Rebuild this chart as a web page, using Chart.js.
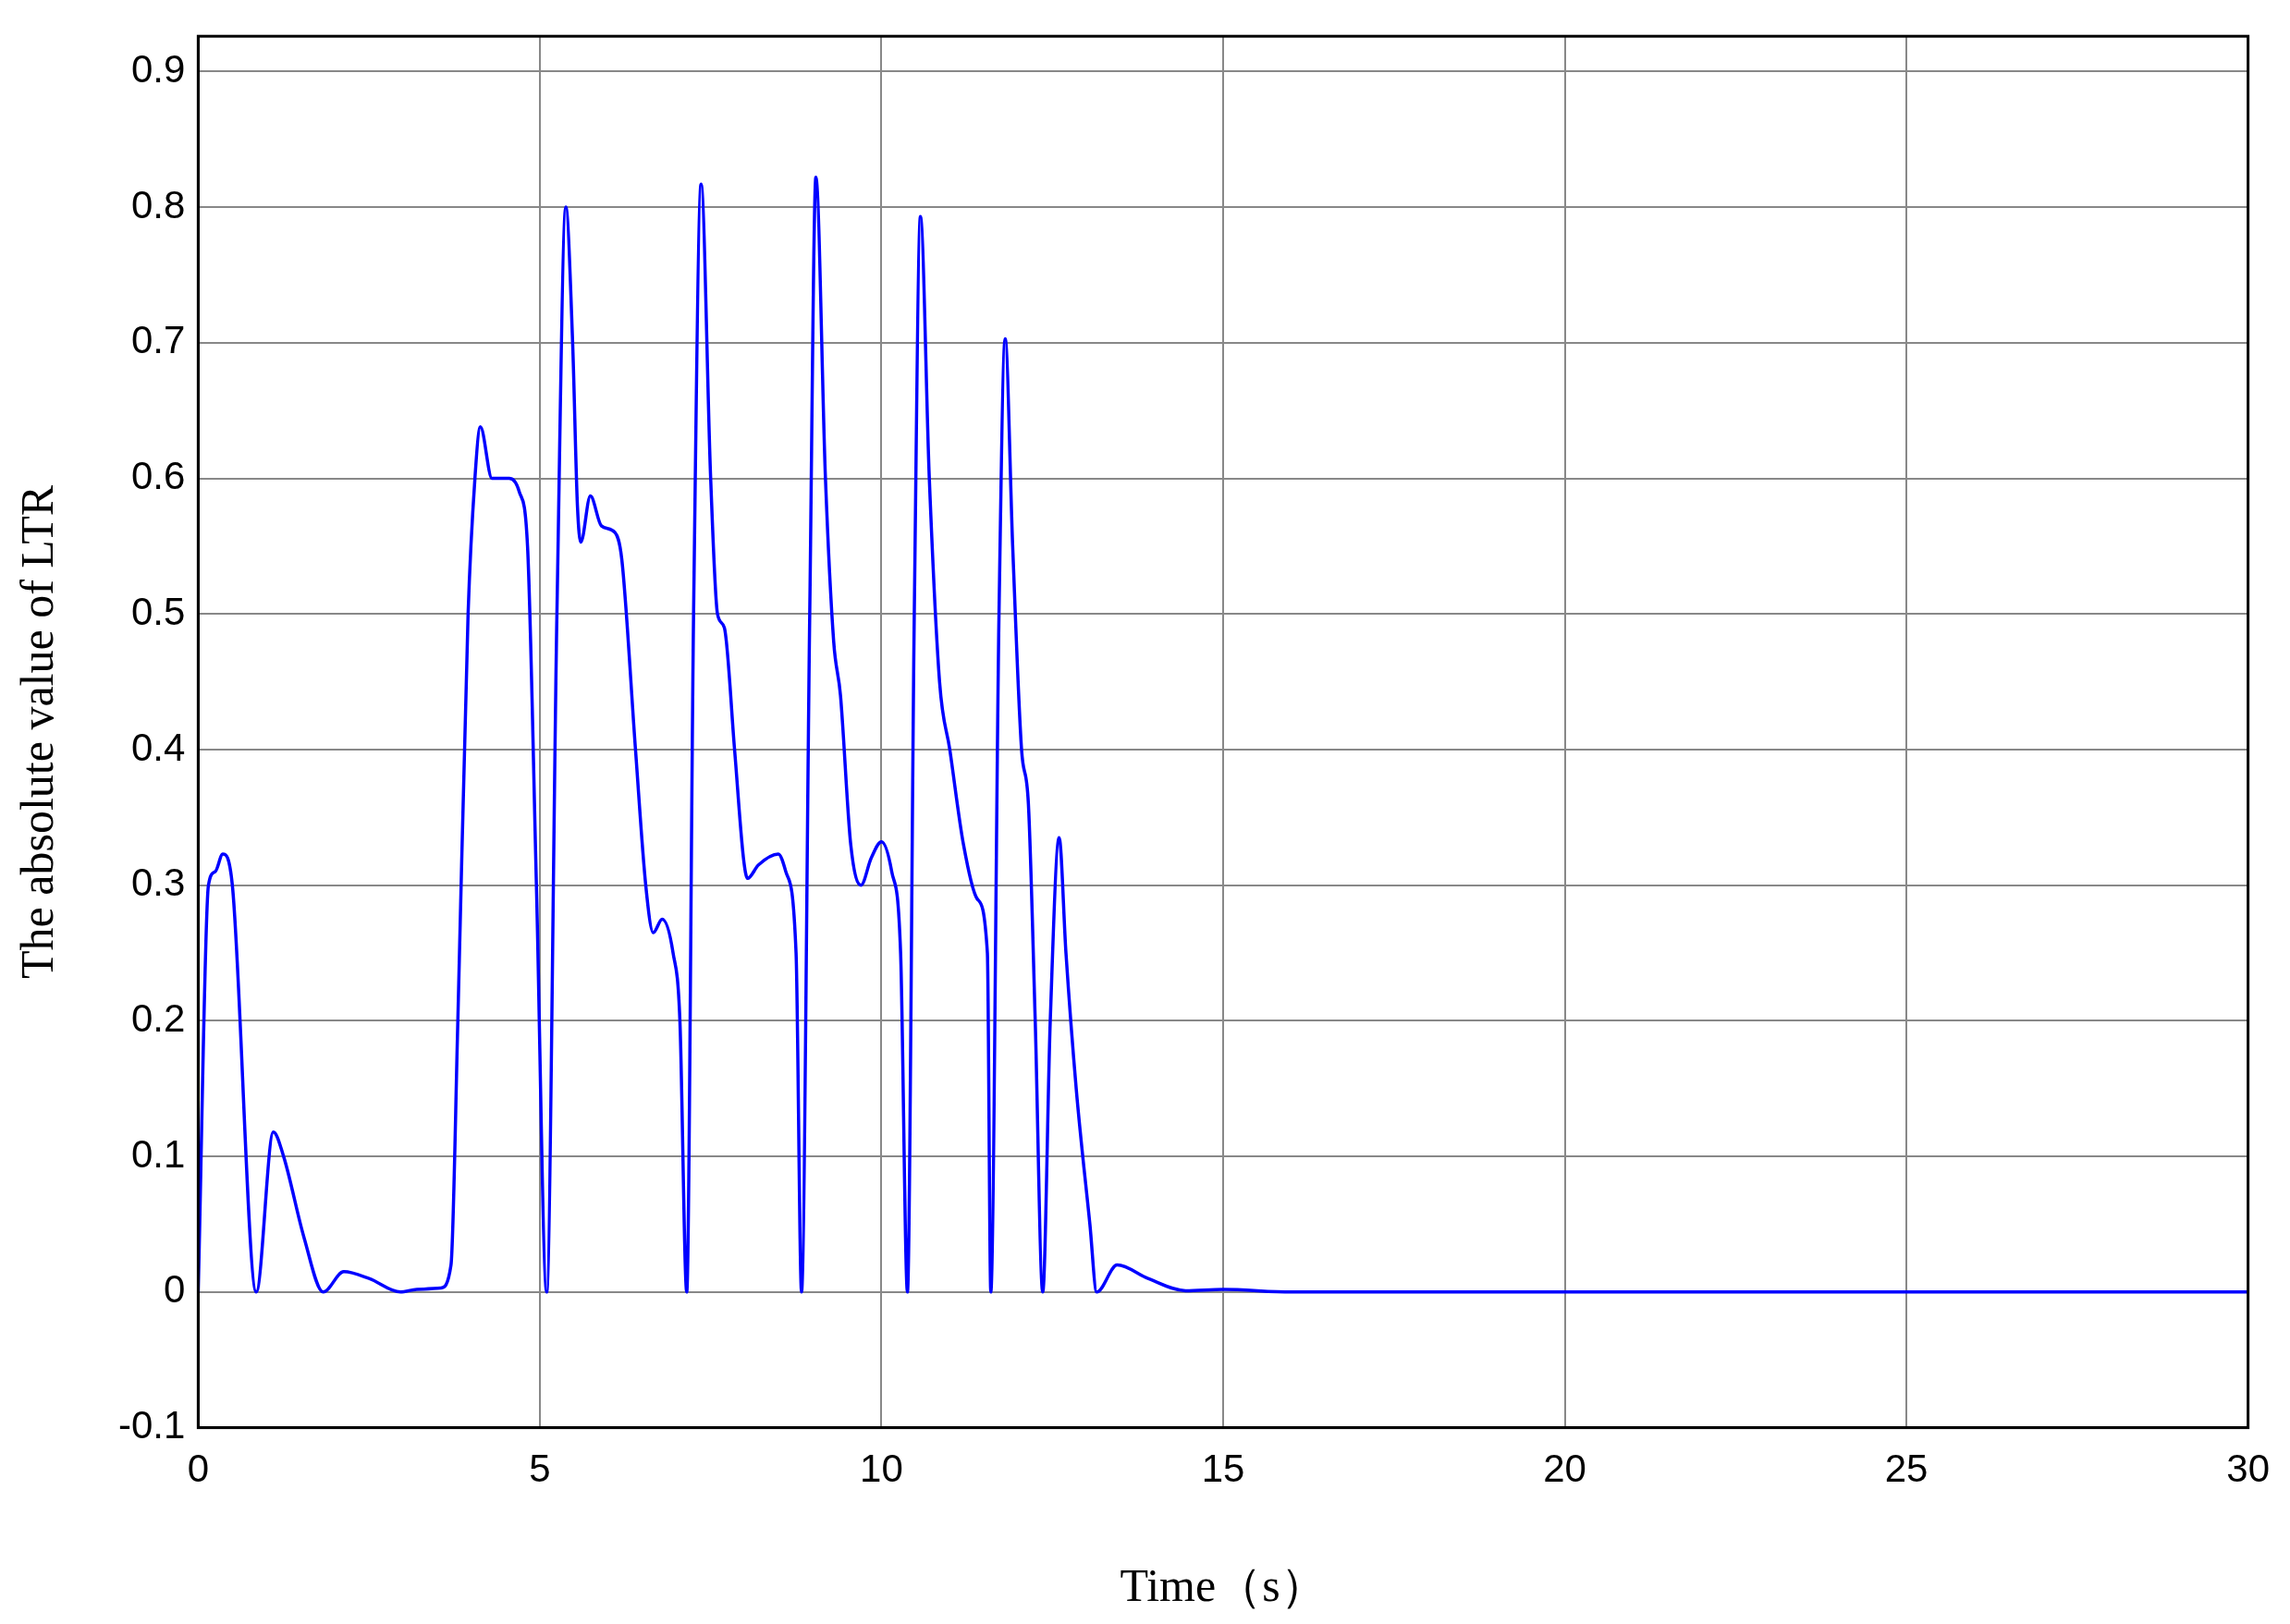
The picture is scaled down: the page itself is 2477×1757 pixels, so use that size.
<!DOCTYPE html>
<html><head><meta charset="utf-8">
<script src="https://cdn.jsdelivr.net/npm/chart.js@4/dist/chart.umd.min.js"></script>
<style>html,body{margin:0;padding:0;background:#fff}#c{display:block}</style>
</head><body>
<canvas id="c" width="2477" height="1757"></canvas>
<script>
const timeS = [0,0.15,0.25,0.36,0.5,0.85,1.1,1.25,1.55,1.83,2.13,2.5,2.96,3.2,3.55,3.7,3.8,3.95,4.05,4.13,4.3,4.55,4.7,4.82,4.95,5.1,5.25,5.38,5.48,5.55,5.6,5.74,5.9,6.1,6.2,6.4,6.55,6.66,6.79,6.95,7.05,7.15,7.25,7.36,7.5,7.6,7.7,7.85,7.98,8.04,8.2,8.49,8.6,8.75,8.83,8.95,9.04,9.18,9.3,9.4,9.55,9.7,9.85,10.0,10.15,10.28,10.38,10.48,10.57,10.7,10.85,11.0,11.2,11.4,11.55,11.6,11.72,11.81,11.92,12.05,12.15,12.25,12.36,12.47,12.6,12.7,12.85,13.05,13.15,13.45,13.9,14.45,15,16,30];
const ltrAbs = [0,0.3,0.31,0.323,0.3,0,0.118,0.1,0.04,0,0.015,0.01,0,0.002,0.003,0.02,0.2,0.5,0.6,0.638,0.6,0.6,0.59,0.55,0.3,0,0.5,0.8,0.7,0.58,0.553,0.587,0.565,0.56,0.54,0.4,0.3,0.265,0.275,0.25,0.2,0,0.5,0.817,0.6,0.5,0.49,0.4,0.32,0.305,0.315,0.323,0.31,0.25,0,0.5,0.822,0.6,0.48,0.44,0.33,0.3,0.32,0.332,0.31,0.25,0,0.5,0.793,0.6,0.45,0.4,0.33,0.29,0.25,0,0.5,0.703,0.55,0.4,0.36,0.2,0,0.2,0.335,0.25,0.15,0.05,0,0.02,0.01,0.001,0.002,0,0];
const xTicks = [0,5,10,15,20,25,30];
const yTicks = [-0.1,0,0.1,0.2,0.3,0.4,0.5,0.6,0.7,0.8,0.9];
const pts = timeS.map((t,i)=>({x:t,y:ltrAbs[i]}));
const tickFont = {family:'Liberation Sans, Arial', size:42};
new Chart(document.getElementById('c'),{
  type:'line',
  data:{datasets:[{data:pts,borderColor:'#0000ff',borderWidth:3.5,pointRadius:0,cubicInterpolationMode:'monotone',fill:false}]},
  options:{
    responsive:false,animation:false,devicePixelRatio:1,
    layout:{padding:{left:14,right:34,top:20,bottom:8}},
    plugins:{legend:{display:false},tooltip:{enabled:false}},
    scales:{
      x:{type:'linear',min:0,max:30,
        afterBuildTicks:a=>{a.ticks=xTicks.map(v=>({value:v}));},
        ticks:{font:tickFont,color:'#000',padding:22,maxRotation:0},
        grid:{color:'#888',lineWidth:2,tickLength:0},
        border:{color:'#000',width:3},
        title:{display:true,text:'Time（s）',font:{family:'Liberation Serif, Times New Roman',size:50},color:'#000',padding:{top:50,bottom:0}}},
      y:{min:-0.1,max:0.926,
        afterBuildTicks:a=>{a.ticks=yTicks.map(v=>({value:v}));},
        ticks:{font:tickFont,color:'#000',padding:14,callback:v=>String(Math.round(v*10)/10)},
        grid:{color:'#888',lineWidth:2,tickLength:0},
        border:{color:'#000',width:3},
        title:{display:true,text:'The absolute value of LTR',font:{family:'Liberation Serif, Times New Roman',size:50},color:'#000',padding:{top:0,bottom:40}}}
    }
  },
  plugins:[{id:'box',afterDraw(c){const a=c.chartArea,x=c.ctx;x.save();x.strokeStyle='#000';x.lineWidth=3;x.strokeRect(a.left,a.top,a.right-a.left,a.bottom-a.top);x.restore();}}]
});
</script>
</body></html>
